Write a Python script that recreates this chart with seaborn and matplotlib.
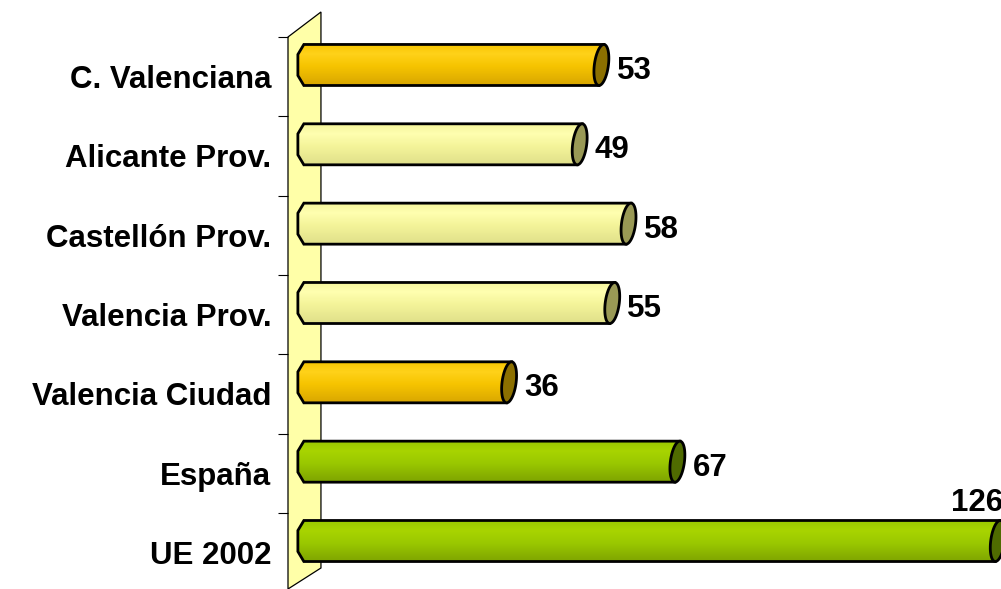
import numpy as np
import matplotlib
matplotlib.use("Agg")
import matplotlib.pyplot as plt
from matplotlib.patches import Polygon
import seaborn as sns

# data
categories = ["C. Valenciana", "Alicante Prov.", "Castellón Prov.", "Valencia Prov.",
              "Valencia Ciudad", "España", "UE 2002"]
values = [53, 49, 58, 55, 36, 67, 126]
groups = ["dark", "light", "light", "light", "dark", "green", "green"]

# colours per group: (top, highlight, bottom, cap)
styles = {
    "dark": ("#f6c400", "#ffd21a", "#d9a700", "#8c7000"),
    "light": ("#f4f49a", "#ffffb0", "#e0e08a", "#999955"),
    "green": ("#9ac800", "#a8d400", "#7ea400", "#4f6b00"),
}

sns.set_style("white")
plt.rcParams['font.family'] = ['Liberation Sans', 'DejaVu Sans']
plt.rcParams['font.weight'] = 'bold'
plt.rcParams['text.color'] = 'black'
plt.rcParams['ytick.color'] = 'black'
plt.rcParams['ytick.labelcolor'] = 'black'

fig = plt.figure(figsize=(10.01, 5.89), dpi=100)
ax = fig.add_axes([288 / 1001, 0, 1 - 288 / 1001, 1])

XMIN, XMAX = -5.52, 125.8
YMIN, YMAX = 6.605, -0.819
FS = 22.5

sns.barplot(x=values, y=categories, hue=categories, orient="h", legend=False,
            width=0.517, ax=ax, palette=[styles[g][0] for g in groups])

# back wall
wall = Polygon([(XMIN, -0.353), (0.55, -0.668), (0.55, 6.34), (XMIN, YMIN)], closed=True,
               facecolor="#ffffa8", edgecolor="black", linewidth=0.9, zorder=0.5, clip_on=False)
ax.add_patch(wall)

DEPTH = 3.7      # bar sticks out left of zero (3d look)
BEV_X, BEV_Y = 1.1, 0.126
RX, SHEAR = 1.3, 0.45

t = np.linspace(0, 2 * np.pi, 60)
for patch, v, g in zip(list(ax.patches), values, groups):
    if patch is wall:
        continue
    patch.set_visible(False)
    c = patch.get_y() + patch.get_height() / 2
    h = patch.get_height()
    top, bot = c - h / 2, c + h / 2
    x0 = -DEPTH
    xe = v - 0.8
    body_pts = [(x0 + BEV_X, top), (xe + SHEAR, top), (xe - SHEAR, bot),
                (x0 + BEV_X, bot), (x0, bot - BEV_Y), (x0, top + BEV_Y)]
    col_top, col_hi, col_bot, col_cap = styles[g]
    body = Polygon(body_pts, closed=True, facecolor="none", edgecolor="black",
                   linewidth=2.0, zorder=3, clip_on=False)
    ax.add_patch(body)
    cmap = matplotlib.colors.LinearSegmentedColormap.from_list(
        "c", [(0, col_top), (0.25, col_hi), (0.55, col_top), (1, col_bot)])
    grad = np.linspace(0, 1, 64).reshape(-1, 1)
    img = ax.imshow(grad, cmap=cmap, aspect="auto", extent=(x0, xe + SHEAR + 0.1, bot, top),
                    zorder=2, interpolation="bilinear")
    img.set_clip_path(body)
    cap_pts = np.column_stack([xe + RX * np.cos(t) - SHEAR * np.sin(t),
                               c + (h / 2) * np.sin(t)])
    ax.add_patch(Polygon(cap_pts, closed=True, facecolor=col_cap, edgecolor="black",
                         linewidth=2.0, zorder=4, clip_on=True))
    if v > XMAX - 12:
        ax.text(XMAX + 0.3, top - 0.03, str(v), ha="right", va="bottom",
                fontsize=FS, fontweight="bold", color="black", zorder=5)
    else:
        ax.text(xe + RX + 1.5, c + 0.075, str(v), ha="left", va="center",
                fontsize=FS, fontweight="bold", color="black", zorder=5)

ax.set_xlim(XMIN, XMAX)
ax.set_ylim(YMIN, YMAX)
for s in ax.spines.values():
    s.set_visible(False)
ax.set_xticks([])
ax.set_xlabel("")
ax.set_ylabel("")

n = len(categories)
ax.set_yticks([-0.353 + k for k in range(n)])
ax.set_yticklabels([])
ax.set_yticks([0.147 + k for k in range(n)], minor=True)
ax.set_yticklabels(categories, minor=True, fontsize=FS, fontweight="bold", color="black")
ax.tick_params(axis="y", which="major", length=7.2, width=0.8, color="black", direction="out", left=True)
ax.tick_params(axis="y", which="minor", length=0, pad=12)

fig.savefig("out.png", dpi=100)
